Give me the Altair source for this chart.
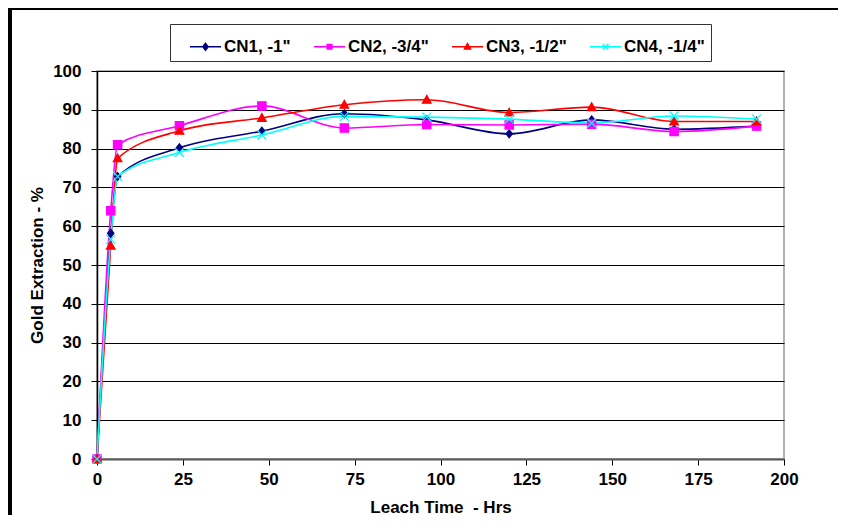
import altair as alt
import pandas as pd

hours = [0, 4, 6, 24, 48, 72, 96, 120, 144, 168, 192]
series_names = ['CN1, -1"', 'CN2, -3/4"', 'CN3, -1/2"', 'CN4, -1/4"']
cn1 = [0, 58.2, 72.8, 80.2, 84.5, 89.0, 87.4, 83.8, 87.4, 85.0, 85.8]
cn2 = [0, 64.0, 81.0, 85.9, 91.0, 85.3, 86.2, 86.1, 86.3, 84.4, 85.8]
cn3 = [0, 55.0, 77.5, 84.6, 87.9, 91.3, 92.6, 89.3, 90.7, 87.0, 87.0]
cn4 = [0, 56.6, 72.8, 79.0, 83.5, 88.3, 88.1, 87.6, 86.6, 88.4, 87.6]
colors = ['#000080', '#FF00FF', '#FF0000', '#00FFFF']
x_ticks = [0, 25, 50, 75, 100, 125, 150, 175, 200]
y_ticks = [0, 10, 20, 30, 40, 50, 60, 70, 80, 90, 100]

rows = []
for name, vals in zip(series_names, [cn1, cn2, cn3, cn4]):
    for h, v in zip(hours, vals):
        rows.append({'hours': h, 'series': name, 'value': v})
df = pd.DataFrame(rows)

FONT = 'Liberation Sans'
FS = 17

# marker shapes used in the plot
plot_shapes = [
    'M0,-1L0.8,0L0,1L-0.8,0Z',
    'square',
    'M0,-1L1,0.8L-1,0.8Z',
    'M-1,-1L1,1M-1,1L1,-1',
]
plot_sizes = [64, 81, 81, 64]

# legend symbols: line segment with a small marker
legend_shapes = [
    'M-1,0L1,0M0,-0.22L0.17,0L0,0.22L-0.17,0Z',
    'M-1,0L1,0M-0.15,-0.15L0.15,-0.15L0.15,0.15L-0.15,0.15Z',
    'M-1,0L1,0M0,-0.2L0.19,0.14L-0.19,0.14Z',
    'M-1,0L1,0M-0.18,-0.18L0.18,0.18M-0.18,0.18L0.18,-0.18',
]

x_enc = alt.X('hours:Q', scale=alt.Scale(domain=[0, 200], nice=False),
              axis=alt.Axis(values=x_ticks, title='Leach Time\u00a0\u00a0- Hrs', grid=False,
                            tickSize=6, labelPadding=6, titlePadding=12,
                            domainColor='#555555', domainWidth=2, tickColor='black',
                            labelFlush=False))
y_enc = alt.Y('value:Q', scale=alt.Scale(domain=[0, 100], nice=False),
              axis=alt.Axis(values=y_ticks, title='Gold Extraction - %', grid=True,
                            gridColor='black', gridWidth=1, gridOpacity=1,
                            tickSize=6, labelPadding=10, titlePadding=6,
                            domainColor='black', domainWidth=1.5, tickColor='black'))

color_scale = alt.Scale(domain=series_names, range=colors)

base = alt.Chart(df)

lines = base.mark_line(interpolate='monotone', strokeWidth=1.6).encode(
    x=x_enc, y=y_enc,
    color=alt.Color('series:N', scale=color_scale, legend=None),
)

points = base.mark_point(filled=True, opacity=1, strokeWidth=1.2).encode(
    x=x_enc, y=y_enc,
    color=alt.Color('series:N', scale=color_scale, legend=None),
    stroke=alt.Stroke('series:N', scale=color_scale, legend=None),
    shape=alt.Shape('series:N', scale=alt.Scale(domain=series_names, range=plot_shapes), legend=None),
    size=alt.Size('series:N', scale=alt.Scale(domain=series_names, range=plot_sizes), legend=None),
)

leg = alt.Legend(title=None, orient='none', legendX=73, legendY=-47, direction='horizontal',
                 columns=4, symbolSize=961, symbolStrokeWidth=1.5, symbolOffset=13,
                 labelFont=FONT, labelFontSize=FS, labelFontWeight='bold', labelColor='black',
                 labelOffset=2, columnPadding=9, padding=6, strokeColor='#333333',
                 fillColor='white', labelLimit=0)

legend_layer = base.mark_point(filled=True, opacity=1).encode(
    x=x_enc, y=y_enc,
    color=alt.Color('series:N', scale=color_scale, legend=leg),
    stroke=alt.Stroke('series:N', scale=color_scale, legend=leg),
    shape=alt.Shape('series:N', scale=alt.Scale(domain=series_names, range=legend_shapes), legend=leg),
).transform_filter('datum.value > 1000')

frame_df = pd.DataFrame({'k': [0]})
frame_left = alt.Chart(frame_df).mark_rule(color='black', strokeWidth=4).encode(
    x=alt.value(-87), y=alt.value(-64), y2=alt.value(600))
frame_top = alt.Chart(frame_df).mark_rule(color='black', strokeWidth=4).encode(
    x=alt.value(-89), x2=alt.value(900), y=alt.value(-63))

chart = alt.layer(lines, points, legend_layer, frame_left, frame_top).resolve_scale(
    color='independent', stroke='independent', shape='independent', size='independent'
).properties(
    width=687, height=388,
    autosize=alt.AutoSizeParams(type='none'),
    padding={'left': 89, 'top': 63, 'right': 54, 'bottom': 56},
).configure_view(
    stroke='#999999', strokeWidth=1.5
).configure_axis(
    labelFont=FONT, labelFontSize=FS, labelFontWeight='bold', labelColor='black',
    titleFont=FONT, titleFontSize=FS, titleFontWeight='bold', titleColor='black',
)

chart.save('out.html', embed_options={'renderer': 'svg', 'actions': False})
